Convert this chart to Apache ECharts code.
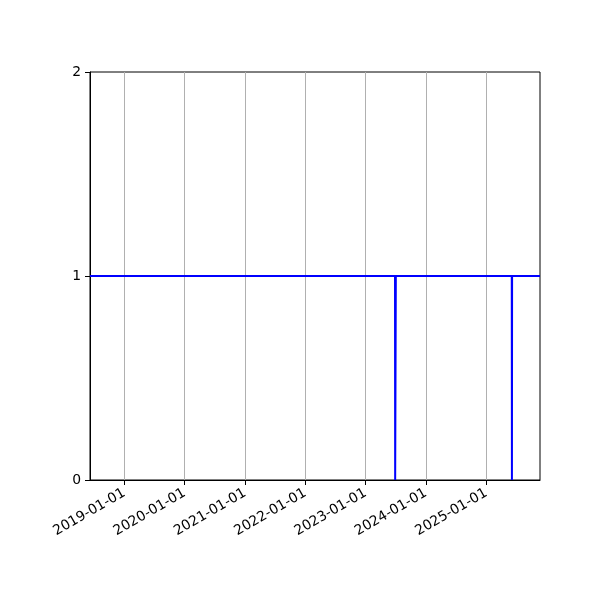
<!DOCTYPE html>
<html>
<head>
<meta charset="utf-8">
<script src="https://cdn.jsdelivr.net/npm/echarts@6/dist/echarts.min.js"></script>
<style>html,body{margin:0;padding:0;background:#fff;}#c{width:600px;height:600px;}</style>
</head>
<body>
<div id="c"></div>
<script>
// Data
const dates = ['2018-06-07','2023-06-28','2023-06-29','2023-07-02','2023-07-03','2025-06-04','2025-06-05','2025-06-06','2025-11-22'];
const values = [1,1,0,0,1,1,0,1,1];
const xTickDates = ['2019-01-01','2020-01-01','2021-01-01','2022-01-01','2023-01-01','2024-01-01','2025-01-01'];
const yTicks = [0,1,2];
const xMin = '2018-06-07';
const xMax = '2025-11-22';

const ts = s => { const p = s.split('-').map(Number); return Date.UTC(p[0], p[1]-1, p[2]); };
const pad = n => (n < 10 ? '0' : '') + n;
const fmt = v => { const d = new Date(v); return d.getUTCFullYear() + '-' + pad(d.getUTCMonth()+1) + '-' + pad(d.getUTCDate()); };

const chart = echarts.init(document.getElementById('c'));
chart.setOption({
  animation: false,
  backgroundColor: '#fff',
  grid: { left: 90, right: 60, top: 72, bottom: 120, show: true, borderColor: '#000', borderWidth: 1, backgroundColor: 'transparent' },
  xAxis: {
    type: 'value',
    min: ts(xMin),
    max: ts(xMax),
    axisLine: { show: true, lineStyle: { color: '#000', width: 1 } },
    axisTick: { show: true, length: 5, lineStyle: { color: '#000' }, customValues: xTickDates.map(ts) },
    axisLabel: {
      customValues: xTickDates.map(ts),
      rotate: 30,
      margin: 12,
      color: '#000',
      fontFamily: 'DejaVu Sans',
      fontSize: 13.9,
      formatter: v => fmt(v)
    },
    splitLine: { show: true, lineStyle: { color: '#b0b0b0', width: 1 } }
  },
  yAxis: {
    type: 'value',
    min: yTicks[0],
    max: yTicks[yTicks.length-1],
    interval: 1,
    axisLine: { show: true, lineStyle: { color: '#000', width: 1 } },
    axisTick: { show: true, length: 5, lineStyle: { color: '#000' } },
    axisLabel: { color: '#000', fontFamily: 'DejaVu Sans', fontSize: 13.9, margin: 9 },
    splitLine: { show: false }
  },
  series: [{
    type: 'line',
    data: dates.map((d, i) => [ts(d), values[i]]),
    showSymbol: false,
    symbol: 'none',
    lineStyle: { color: '#0000ff', width: 2 },
    clip: true
  }]
});
</script>
</body>
</html>
